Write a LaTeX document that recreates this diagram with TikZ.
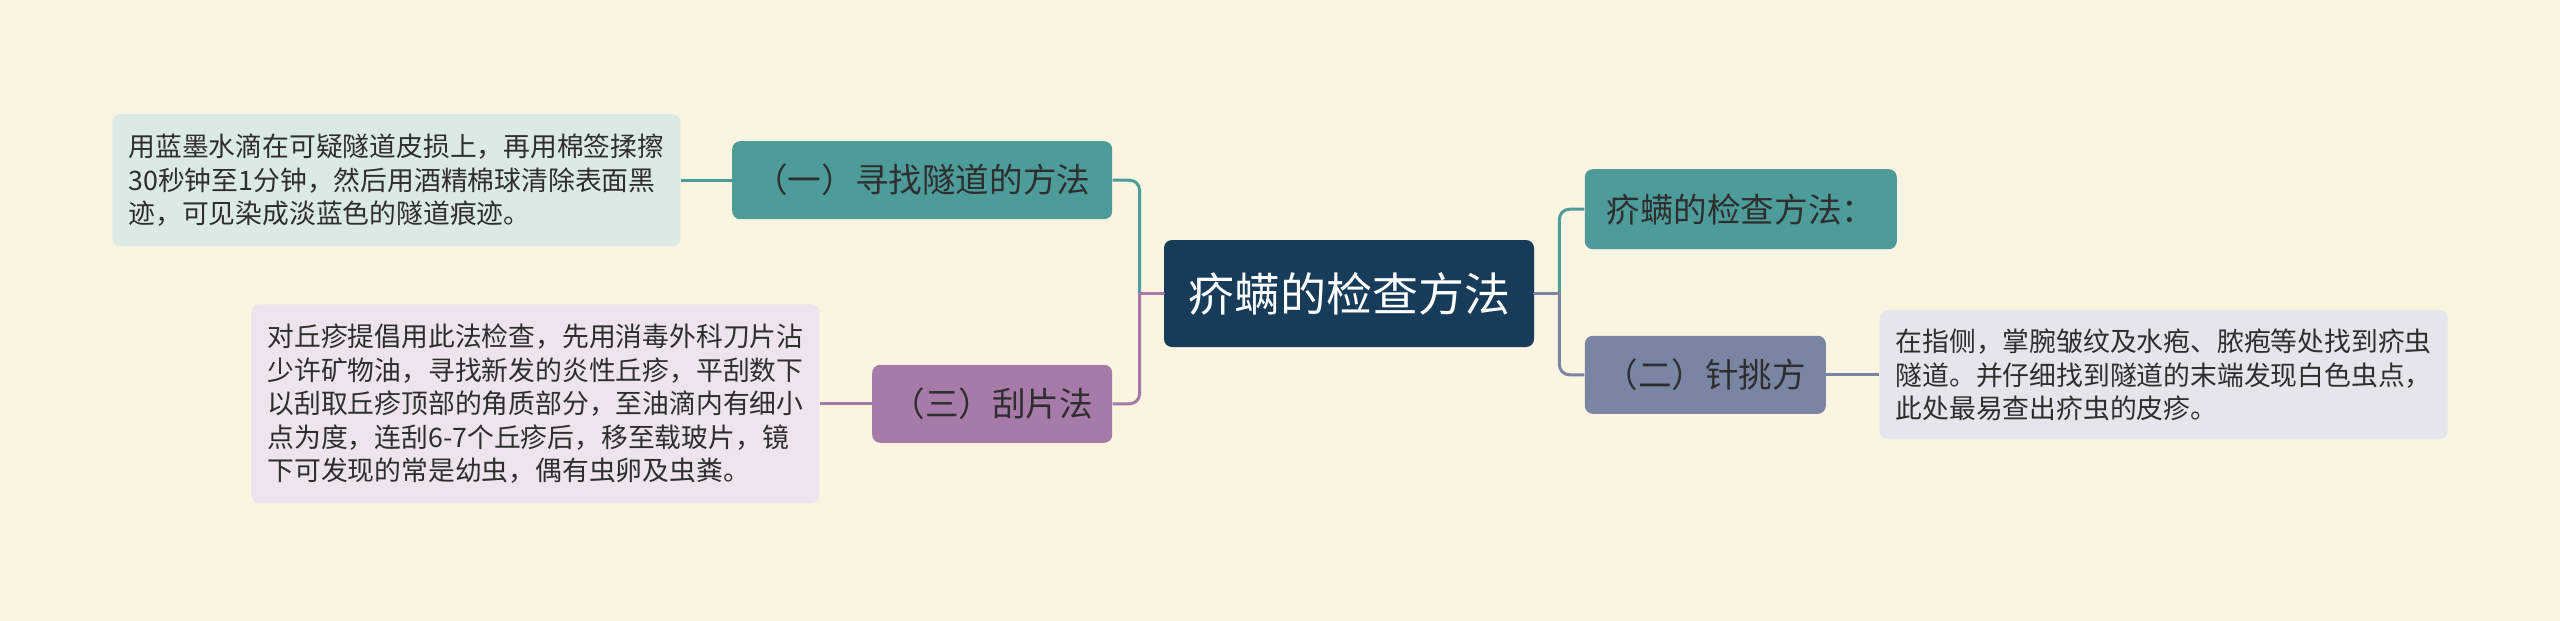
\documentclass[tikz,border=0pt]{standalone}
\usepackage{fontspec}
\setmainfont{Noto Sans CJK SC}
\usepackage{tikz}
\usetikzlibrary{positioning}

\definecolor{bgcream}{HTML}{FAF4E0}
\definecolor{rootblue}{HTML}{173C5A}
\definecolor{tealc}{HTML}{4E9C9A}
\definecolor{plumc}{HTML}{A77BA9}
\definecolor{slatec}{HTML}{7A85A4}
\definecolor{tealleaf}{HTML}{DCEAE6}
\definecolor{plumleaf}{HTML}{EEE3EE}
\definecolor{slateleaf}{HTML}{E3E6ED}
\definecolor{inkc}{HTML}{2E2E2E}

\begin{document}
\begin{tikzpicture}[
x=1pt,
y=1pt,
rootbox/.style={
rounded corners=4pt,
fill=rootblue,
text=white,
font=\fontsize{23}{27}\selectfont,
minimum width=185pt,
minimum height=53.5pt,
inner sep=0pt
},
branch/.style={
rounded corners=4pt,
text=inkc,
font=\fontsize{16.8}{20}\selectfont,
minimum height=39pt,
inner sep=0pt
},
leaf/.style={
rounded corners=4pt,
text=inkc,
align=left,
font=\fontsize{13.4}{16.75}\selectfont,
minimum width=284pt,
inner xsep=7pt,
inner ysep=0pt
},
link/.style={
line width=1.5pt
}
]

\fill[bgcream] (0,0) rectangle (1280,-310.5);
\useasboundingbox (0,0) rectangle (1280,-310.5);


% Root

\node (root) [rootbox] at (674.5,-146.75) {疥螨的检查方法};


% Left branches

\node (tunnel) [branch, fill=tealc, minimum width=190pt, above left=10pt and 25.5pt of root]
{（一）寻找隧道的方法};

\node (scrape) [branch, fill=plumc, minimum width=120pt, below left=8.5pt and 25.5pt of root]
{（三）刮片法};


% Right branches

\node (exam) [branch, fill=tealc, minimum width=156pt, minimum height=40pt, above right=-5pt and 25pt of root]
{疥螨的检查方法：};

\node (needle) [branch, fill=slatec, minimum width=120.5pt, below right=-6pt and 25pt of root]
{（二）针挑方};


% Leaves

\node (tunneltxt) [leaf, fill=tealleaf, minimum height=66pt, left=25.5pt of tunnel]
{
用蓝墨水滴在可疑隧道皮损上，再用棉签揉擦\\
30秒钟至1分钟，然后用酒精棉球清除表面黑\\
迹，可见染成淡蓝色的隧道痕迹。
};

\node (scrapetxt) [leaf, fill=plumleaf, minimum height=99.5pt, left=26pt of scrape]
{
对丘疹提倡用此法检查，先用消毒外科刀片沾\\
少许矿物油，寻找新发的炎性丘疹，平刮数下\\
以刮取丘疹顶部的角质部分，至油滴内有细小\\
点为度，连刮6-7个丘疹后，移至载玻片，镜\\
下可发现的常是幼虫，偶有虫卵及虫粪。
};

\node (needletxt) [leaf, fill=slateleaf, minimum height=64.5pt, right=26.5pt of needle]
{
在指侧，掌腕皱纹及水疱、脓疱等处找到疥虫\\
隧道。并仔细找到隧道的末端发现白色虫点，\\
此处最易查出疥虫的皮疹。
};


% Connectors

\coordinate (ljoin) at ([xshift=-12pt]root.west);
\coordinate (rjoin) at ([xshift=12.5pt]root.east);

\draw[link, tealc, rounded corners=5pt] (ljoin) |- (tunnel.east);
\draw[link, plumc, rounded corners=5pt] (ljoin) |- (scrape.east);
\draw[link, plumc, line cap=round] (root.west) -- (ljoin);

\draw[link, tealc, rounded corners=5pt] (rjoin) |- (exam.west);
\draw[link, slatec, rounded corners=5pt] (rjoin) |- (needle.west);
\draw[link, slatec, line cap=round] (root.east) -- (rjoin);

\draw[link, tealc] (tunnel.west) -- (tunneltxt.east);
\draw[link, plumc] (scrape.west) -- (scrapetxt.east);
\draw[link, slatec] (needle.east) -- (needletxt.west);


\end{tikzpicture}
\end{document}
